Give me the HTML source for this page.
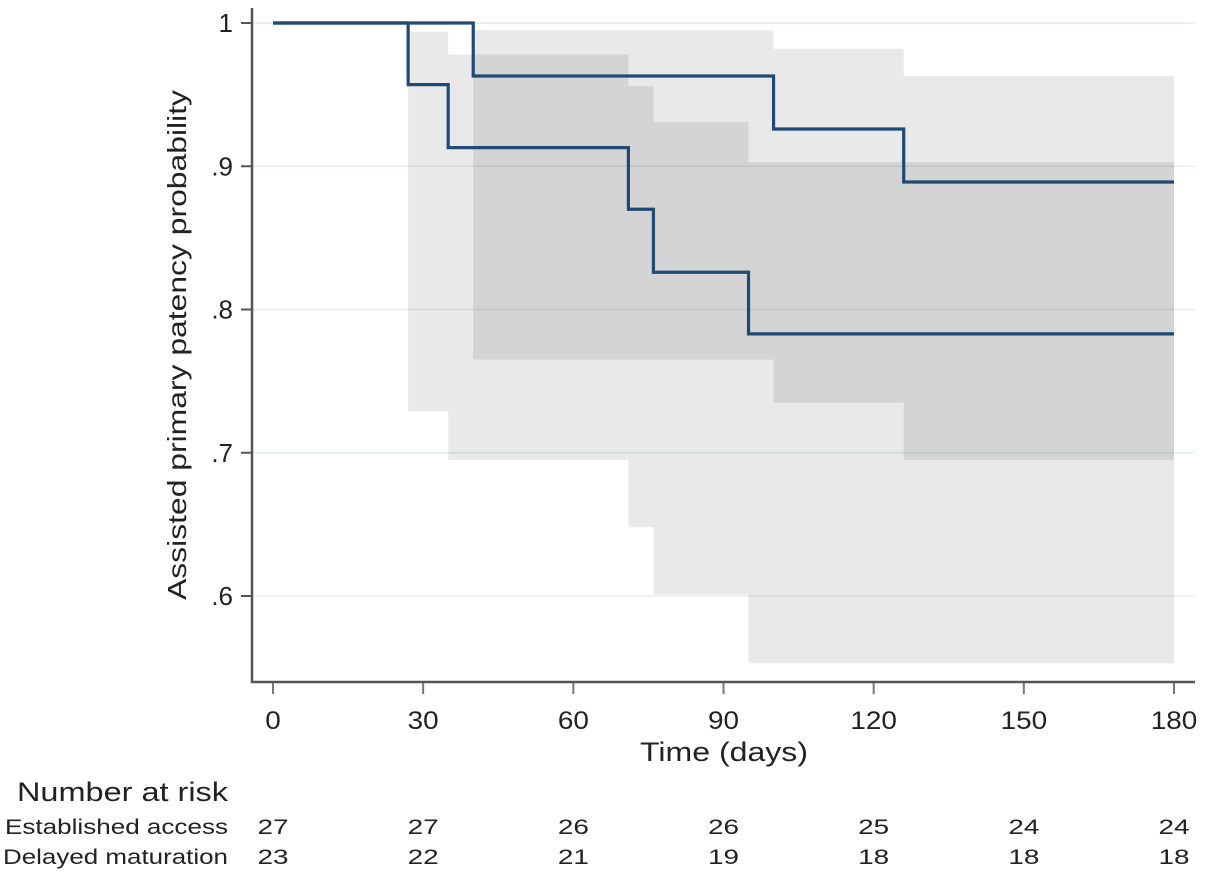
<!DOCTYPE html>
<html><head><meta charset="utf-8"><style>
body{margin:0;background:#fff}
svg text{font-family:"Liberation Sans",sans-serif;fill:#222}
</style></head><body>
<svg width="1205" height="873" viewBox="0 0 1205 873">
<g id="grid"></g><g id="bands"></g><g id="lines"></g><g id="axes"></g><g id="risk"></g>
</svg>
<script>
const estTimes=[0,40,100,126,180];
const estSurv=[1,0.963,0.926,0.889,0.889];
const estLow=[null,0.765,0.735,0.695,0.695];
const estHigh=[null,0.995,0.982,0.963,0.963];
const delTimes=[0,27,35,71,76,95,180];
const delSurv=[1,0.957,0.913,0.870,0.826,0.783,0.783];
const delLow=[null,0.729,0.695,0.648,0.601,0.553,0.553];
const delHigh=[null,0.994,0.978,0.956,0.931,0.903,0.903];
const xTicks=[0,30,60,90,120,150,180];
const yTicks=[1,0.9,0.8,0.7,0.6];
const yTickLabels=["1",".9",".8",".7",".6"];
const riskEst=[27,27,26,26,25,24,24];
const riskDel=[23,22,21,19,18,18,18];
const NS="http://www.w3.org/2000/svg";
const X=t=>273+t*(1174-273)/180;
const Y=v=>23+(1-v)*1432.5;
function mk(tag,attrs,parent,txt){const e=document.createElementNS(NS,tag);for(const k in attrs)e.setAttribute(k,attrs[k]);if(txt!==undefined)e.textContent=txt;document.getElementById(parent).appendChild(e);return e;}
yTicks.forEach((v,i)=>{const g=mk('line',{x1:253,x2:1195,y1:Y(v),y2:Y(v),stroke:'#e3eef2','stroke-width':1.5},'grid');

});
function band(times,lo,hi,name){let top=[],bot=[];for(let i=1;i<times.length-1;i++){top.push([X(times[i]),Y(hi[i])],[X(times[i+1]),Y(hi[i])]);bot.push([X(times[i]),Y(lo[i])],[X(times[i+1]),Y(lo[i])]);}
const pts=top.concat(bot.reverse()).map(p=>p.join(',')).join(' ');
const p=mk('polygon',{points:pts,fill:'#000','fill-opacity':0.085},'bands');

}
band(estTimes,estLow,estHigh,'ci-band-established');
band(delTimes,delLow,delHigh,'ci-band-delayed');
function step(times,s,name){let d='M'+X(times[0])+','+Y(s[0]);for(let i=1;i<times.length;i++){d+=' H'+X(times[i])+' V'+Y(s[i]);}
const p=mk('path',{d:d,fill:'none',stroke:'#1f4a74','stroke-width':3.2},'lines');

}
step(delTimes,delSurv,'km-curve-delayed');
step(estTimes,estSurv,'km-curve-established');
let a=mk('path',{d:'M252,8 V682 H1195',fill:'none',stroke:'#555','stroke-width':2.5},'axes');


const LA='spacingAndGlyphs';
yTicks.forEach((v,i)=>{mk('line',{x1:241,x2:252,y1:Y(v),y2:Y(v),stroke:'#555','stroke-width':2},'axes');
const t=mk('text',{x:233,y:Y(v)+9,'text-anchor':'end','font-size':26},'axes',yTickLabels[i]);

});
xTicks.forEach((v,i)=>{mk('line',{x1:X(v),x2:X(v),y1:683,y2:694,stroke:'#777','stroke-width':2},'axes');
const s=String(v);
const t=mk('text',{x:X(v),y:729,'text-anchor':'middle','font-size':25,textLength:s.length*15.5,lengthAdjust:LA},'axes',s);


const r1=mk('text',{x:X(v),y:834,'text-anchor':'middle','font-size':21,textLength:31,lengthAdjust:LA},'risk',String(riskEst[i]));


const r2=mk('text',{x:X(v),y:864,'text-anchor':'middle','font-size':21,textLength:31,lengthAdjust:LA},'risk',String(riskDel[i]));

});
let t=mk('text',{x:640,y:761,'font-size':27,textLength:168,lengthAdjust:LA},'axes','Time (days)');


t=mk('text',{x:-255,y:0,'font-size':26,textLength:510,lengthAdjust:LA,transform:'translate(186,345) rotate(-90)'},'axes','Assisted primary patency probability');


t=mk('text',{x:17,y:801,'font-size':27,textLength:211,lengthAdjust:LA},'risk','Number at risk');


t=mk('text',{x:5,y:834,'font-size':21,textLength:223,lengthAdjust:LA},'risk','Established access');


t=mk('text',{x:3,y:864,'font-size':21,textLength:225,lengthAdjust:LA},'risk','Delayed maturation');


</script>
</body></html>
